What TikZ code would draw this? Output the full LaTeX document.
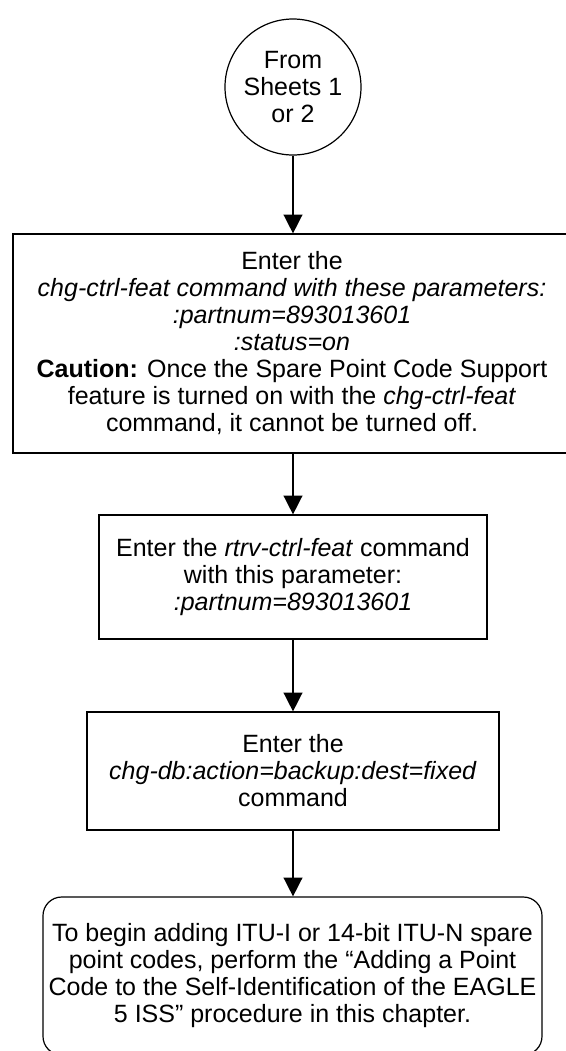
\documentclass[tikz,border=0pt]{standalone}
\usepackage{fontspec}
\setmainfont{Liberation Sans}
\usetikzlibrary{arrows.meta}

\begin{document}
\begin{tikzpicture}[x=0.75pt,y=-0.75pt,
		font=\fontsize{18.75}{20.25}\selectfont,
		stepbox/.style={draw,line width=0.9pt,inner sep=0pt,align=center},
		flowarrow/.style={line width=1.1pt,-{Triangle[width=14pt,length=14pt]}}]
		{
			\useasboundingbox (0,0) rectangle (566,1051);
			\def\midx{293}

			\node[stepbox,circle,minimum size=102pt] (from) at (\midx,87) {From\\Sheets 1\\or 2};

			\node[stepbox,minimum width=418.5pt,minimum height=164.25pt] (featon) at (292,343.5)
				{Enter the\\
				\textit{chg-ctrl-feat command with these parameters:}\\
				\textit{:partnum=893013601}\\
				\textit{:status=on}\\
				\textbf{Caution:} Once the Spare Point Code Support\\
				feature is turned on with the \textit{chg-ctrl-feat}\\
				command, it cannot be turned off.};

			\node[stepbox,minimum width=291pt,minimum height=93pt] (rtrv) at (\midx,577)
				{Enter the \textit{rtrv-ctrl-feat} command\\
				with this parameter:\\
				\textit{:partnum=893013601}};

			\node[stepbox,minimum width=309pt,minimum height=88.5pt] (backup) at (\midx,771)
				{Enter the\\
				\textit{chg-db:action=backup:dest=fixed}\\
				command};

			\node[stepbox,rounded corners=14pt,minimum width=374.25pt,minimum height=118.5pt] (spare) at (292.5,976)
				{To begin adding ITU-I or 14-bit ITU-N spare\\
				point codes, perform the “Adding a Point\\
				Code to the Self-Identification of the EAGLE\\
				5 ISS” procedure in this chapter.};

			\draw[flowarrow] (from.south) -- (from.south |- featon.north);
			\draw[flowarrow] (from.south |- featon.south) -- (rtrv.north);
			\draw[flowarrow] (rtrv.south) -- (backup.north);
			\draw[flowarrow] (backup.south) -- (backup.south |- spare.north);
		}
	\end{tikzpicture}
\end{document}
